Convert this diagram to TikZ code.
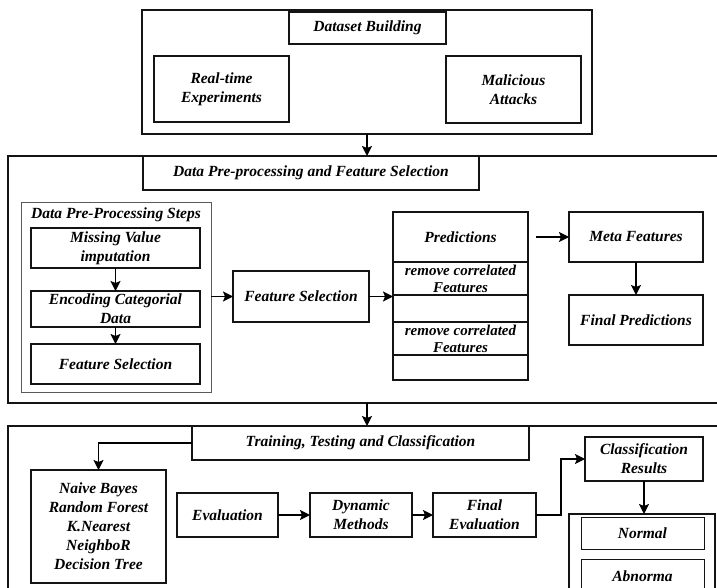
\documentclass[tikz,border=0pt]{standalone}
\usepackage{fontspec}
\setmainfont{Liberation Serif}
\usepackage{tikz}
\usetikzlibrary{arrows.meta}
\definecolor{edge_dark}{RGB}{20,20,20}
\definecolor{group_gray}{RGB}{90,90,90}

\begin{document}
\begin{tikzpicture}[->,>={Stealth[length=10pt,width=10pt,inset=2pt]},x=1pt,y=-1pt,line width=1.5pt]
    \tikzstyle{blk}=[draw=edge_dark, rectangle, inner sep=0pt, outer sep=0pt, align=center, text=black,
                      font=\fontsize{15.5}{19}\selectfont\bfseries\itshape]
    \tikzstyle{cell}=[style=blk, font=\fontsize{15}{17}\selectfont\bfseries\itshape]
    \tikzstyle{thinblk}=[style=blk, line width=0.8pt]
    \tikzstyle{frame}=[-, draw=edge_dark, line width=1.5pt]
    \useasboundingbox (0,0) rectangle (717,588);

    % dataset building
    \node[blk, minimum width=450, minimum height=124] (top) at (367,72) {};
    \node[blk, minimum width=157, minimum height=32]  (dsb) at (367.5,28) {Dataset Building};
    \node[blk, minimum width=135, minimum height=66]  (rte) at (221.5,89) {Real-time\\Experiments};
    \node[blk, minimum width=135, minimum height=67]  (mal) at (513.5,89.5) {Malicious\\Attacks};

    % pre-processing and feature selection
    \draw[frame] (717,156) -| (8,403) -- (717,403);
    \coordinate (s2b) at (8,403);
    \node[blk, minimum width=336, minimum height=34]  (dpt) at (311,173) {Data Pre-processing and Feature Selection};
    \node[blk, draw=group_gray, line width=0.8pt, minimum width=190, minimum height=190] (grp) at (116,297) {};
    \node[font=\fontsize{15.5}{19}\selectfont\bfseries\itshape, inner sep=0pt] (grl) at (116,215) {Data Pre-Processing Steps};
    \node[blk, minimum width=169, minimum height=40]  (mvi) at (115.5,248) {Missing Value\\imputation};
    \node[blk, minimum width=169, minimum height=36]  (ecd) at (115.5,309) {Encoding Categorial\\Data};
    \node[blk, minimum width=169, minimum height=40]  (fsi) at (115.5,364) {Feature Selection};
    \node[blk, minimum width=136, minimum height=51]  (fse) at (301,296.5) {Feature Selection};
    \node[blk,  minimum width=135, minimum height=50] (pr1) at (460.5,237) {Predictions};
    \node[cell, minimum width=135, minimum height=33] (pr2) at (460.5,278.5) {remove correlated\\Features};
    \node[cell, minimum width=135, minimum height=27] (pr3) at (460.5,308.5) {};
    \node[cell, minimum width=135, minimum height=33] (pr4) at (460.5,338.5) {remove correlated\\Features};
    \node[cell, minimum width=135, minimum height=25] (pr5) at (460.5,367.5) {};
    \node[blk, minimum width=134, minimum height=50]  (meta) at (636,237) {Meta Features};
    \node[blk, minimum width=134, minimum height=50]  (fpr) at (636,320) {Final Predictions};

    % training, testing and classification
    \draw[frame] (717,426) -| (8,588);
    \node[blk, minimum width=337, minimum height=34]  (ttc) at (360.5,443) {Training, Testing and Classification};
    \node[blk, minimum width=135, minimum height=113] (nb) at (98.5,526.5) {Naive Bayes\\Random Forest\\K.Nearest\\NeighboR\\Decision Tree};
    \node[blk, minimum width=101, minimum height=44]  (ev) at (227.5,515) {Evaluation};
    \node[blk, minimum width=102, minimum height=44]  (dm) at (361,515) {Dynamic\\Methods};
    \node[blk, minimum width=103, minimum height=44]  (fe) at (484.5,515) {Final\\Evaluation};
    \node[blk, minimum width=118, minimum height=44]  (cr) at (644,459) {Classification\\Results};
    \draw[frame] (569,588) |- (715,514) -- (715,588);
    \coordinate (rtop) at (644,514);
    \node[thinblk, minimum width=123, minimum height=32] (nrm) at (642.5,533) {Normal};
    \draw[frame, line width=0.8pt] (581,588) |- (704,559) -- (704,588);
    \node[font=\fontsize{15.5}{19}\selectfont\bfseries\itshape, inner sep=0pt] (abn) at (642.5,576) {Abnorma};

    \path
     (top.south) edge (top.south |- dpt.north)
     (mvi) edge (ecd)
     (ecd) edge (fsi)
     (grp.east |- fse.west) edge (fse.west)
     (fse) edge (pr3.west |- fse.east)
     (pr1.east) ++(8,0) edge (meta.west)
     (meta) edge (fpr)
     (top.south |- s2b) edge (top.south |- ttc.north)
     (ev) edge (dm)
     (dm) edge (fe)
     (cr.south) edge (rtop)
     ;
    \draw (ttc.west) -| (nb.north);
    \draw (fe.east) -- ++(25,0) |- (cr.west);
\end{tikzpicture}
\end{document}
